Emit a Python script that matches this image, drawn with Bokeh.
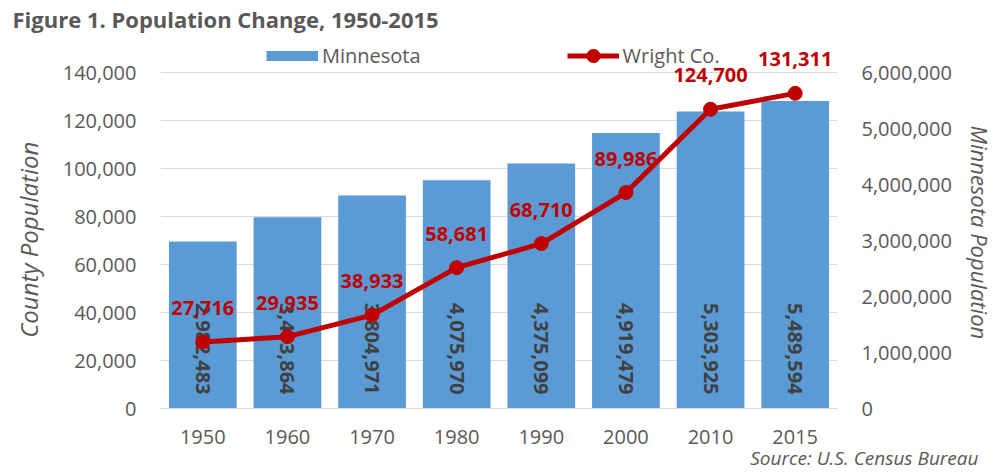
import math
from bokeh.plotting import figure
from bokeh.models import (Range1d, LinearAxis, FactorRange, FixedTicker, NumeralTickFormatter,
                          Legend, LegendItem, Title, ColumnDataSource)
from bokeh.core.properties import value
from bokeh.embed import file_html
from bokeh.resources import INLINE

years = ["1950", "1960", "1970", "1980", "1990", "2000", "2010", "2015"]
minnesota = [2982483, 3413864, 3804971, 4075970, 4375099, 4919479, 5303925, 5489594]
wright = [27716, 29935, 38933, 58681, 68710, 89986, 124700, 131311]
left_ticks = [0, 20000, 40000, 60000, 80000, 100000, 120000, 140000]
right_ticks = [0, 1000000, 2000000, 3000000, 4000000, 5000000, 6000000]
title_text = "Figure 1. Population Change, 1950-2015"
source_text = "Source: U.S. Census Bureau"
left_label = "County Population"
right_label = "Minnesota Population"

FONT = "Open Sans"
GRAY = "#595959"
BLUE = "#5b9bd5"
RED = "#c00000"
NBSP = "\u00a0"

src = ColumnDataSource(dict(
    x=years, mn=minnesota, w=wright,
    mn_lbl=[f"{v:,}" for v in minnesota],
    w_lbl=[f"{v:,}" for v in wright],
))

# frame: x 160..837, y 33..408 ; the top gridlines (140,000 / 6,000,000) sit at y=72
EXT = 375 / 336
p = figure(width=998, height=473,
           x_range=FactorRange(*years, range_padding=0),
           y_range=Range1d(0, 140000 * EXT),
           output_backend="svg", toolbar_location=None,
           min_border_left=160, min_border_right=161,
           min_border_top=33, min_border_bottom=65)
p.extra_y_ranges = {"mn": Range1d(0, 6000000 * EXT)}

p.background_fill_color = "white"
p.border_fill_color = "white"
p.outline_line_color = None
p.xgrid.grid_line_color = None
p.ygrid.grid_line_color = "#d9d9d9"
p.ygrid.grid_line_width = 1

p.title.text = title_text
p.title.align = "left"
p.title.offset = -148
p.title.standoff = 0
p.title.text_font = FONT
p.title.text_font_style = "bold"
p.title.text_font_size = "22px"
p.title.text_color = GRAY

# left axis (non-breaking padding keeps the label centred on the 0..140,000 span)
ya = p.yaxis[0]
ya.ticker = FixedTicker(ticks=left_ticks)
ya.formatter = NumeralTickFormatter(format="0,0")
ya.axis_label = left_label + NBSP * 6
ya.axis_label_text_font = FONT
ya.axis_label_text_font_style = "italic"
ya.axis_label_text_font_size = "24px"
ya.axis_label_text_color = GRAY
ya.axis_label_standoff = 15
ya.major_label_text_font = FONT
ya.major_label_text_font_size = "20px"
ya.major_label_text_color = GRAY
ya.major_label_standoff = 18
ya.axis_line_color = None
ya.major_tick_line_color = None
ya.minor_tick_line_color = None

# right axis
ra = LinearAxis(y_range_name="mn", ticker=FixedTicker(ticks=right_ticks),
                formatter=NumeralTickFormatter(format="0,0"))
ra.axis_label = NBSP * 4 + right_label
ra.axis_label_text_font = FONT
ra.axis_label_text_font_style = "italic"
ra.axis_label_text_font_size = "22px"
ra.axis_label_text_color = GRAY
ra.axis_label_standoff = 10
ra.major_label_text_font = FONT
ra.major_label_text_font_size = "20px"
ra.major_label_text_color = GRAY
ra.major_label_standoff = 18
ra.axis_line_color = None
ra.major_tick_line_color = None
ra.minor_tick_line_color = None
p.add_layout(ra, "right")

# x axis
xa = p.xaxis[0]
xa.major_label_text_font = FONT
xa.major_label_text_font_size = "20px"
xa.major_label_text_color = GRAY
xa.major_label_standoff = 15
xa.axis_line_color = "#d9d9d9"
xa.major_tick_line_color = None
xa.minor_tick_line_color = None

bars = p.vbar(x="x", top="mn", width=0.8, source=src, y_range_name="mn",
              fill_color=BLUE, line_color=None)
p.text(x="x", y=0, text="mn_lbl", source=src, y_range_name="mn",
       angle=-math.pi / 2, text_align="right", text_baseline="middle",
       y_offset=-14, text_font=value(FONT), text_font_style="bold",
       text_font_size="20px", text_color="#404040")

line = p.line(x="x", y="w", source=src, line_color=RED, line_width=5)
pts = p.scatter(x="x", y="w", source=src, size=14, fill_color=RED, line_color=RED)
p.text(x="x", y="w", text="w_lbl", source=src, text_align="center",
       text_baseline="alphabetic", y_offset=-34, text_font=value(FONT),
       text_font_style="bold", text_font_size="20px", text_color=RED)

# legend proxy: a thick blue stroke (no visible data) standing in for the bar swatch
proxy = p.line(x=[years[0]], y=[float("nan")], line_color=BLUE, line_width=10)

leg = Legend(items=[LegendItem(label="Minnesota", renderers=[proxy]),
                    LegendItem(label="Wright Co.", renderers=[line, pts])],
             location=(106, 336.5), orientation="horizontal",
             glyph_width=52, glyph_height=33, label_standoff=4, spacing=146,
             padding=0, margin=0, border_line_color=None, background_fill_alpha=0,
             label_text_font=FONT, label_text_font_size="20px", label_text_color=GRAY)
p.add_layout(leg)

src_title = Title(text=source_text, align="right", offset=-141, standoff=-4,
                  vertical_align="top", text_font=FONT, text_font_style="italic",
                  text_font_size="19px", text_color=GRAY)
p.add_layout(src_title, "below")

open("out.html", "w").write(file_html(p, INLINE))
